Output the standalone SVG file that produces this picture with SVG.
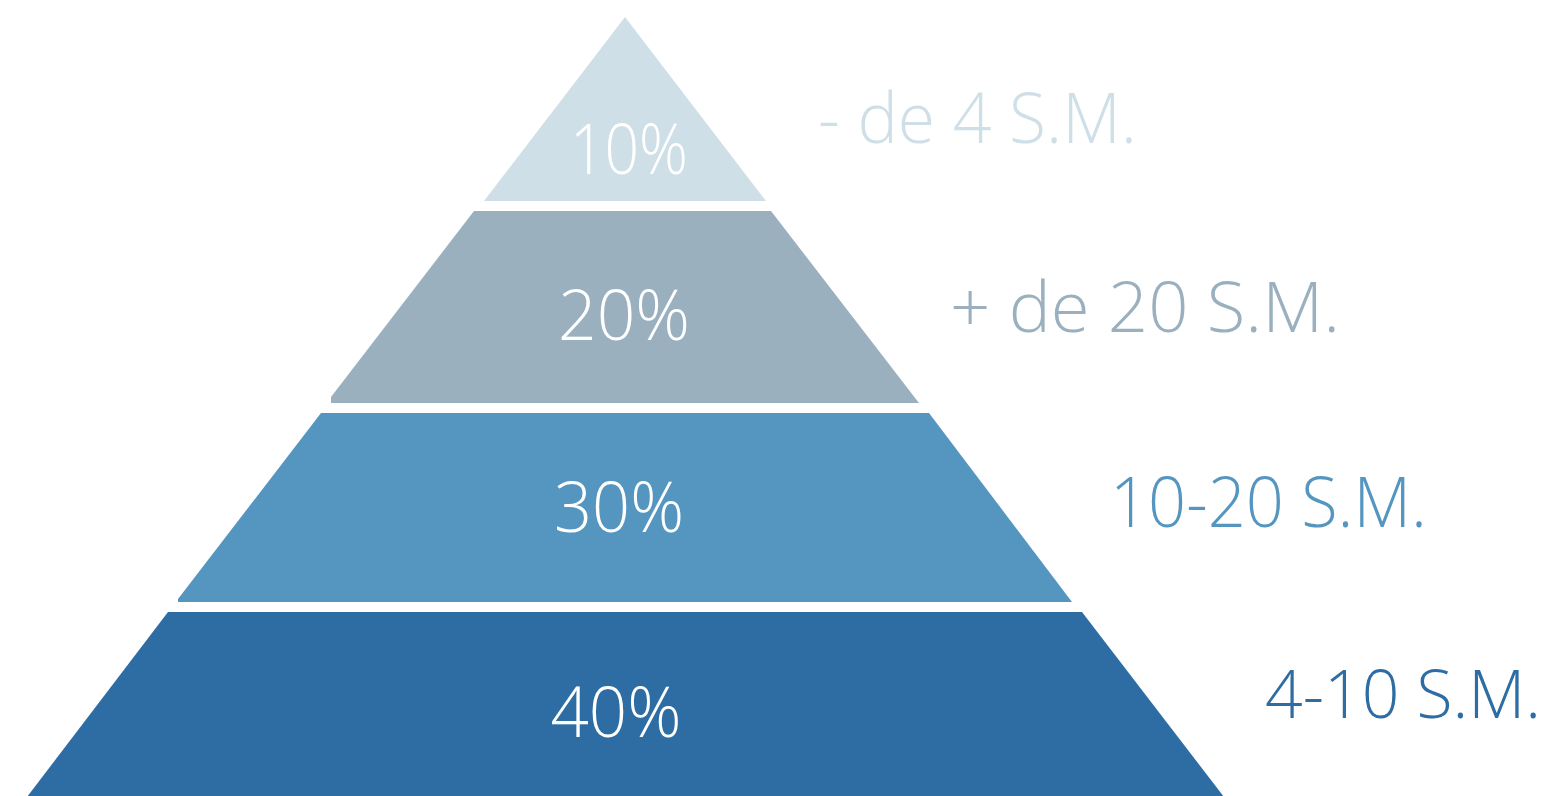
<svg xmlns="http://www.w3.org/2000/svg" width="1553" height="796" viewBox="0 0 1553 796">
<style>
.pct{font-family:"Open Sans","Liberation Sans",sans-serif;font-weight:300;font-size:70px;fill:#ffffff;text-anchor:middle}
.lbl{font-family:"Open Sans","Liberation Sans",sans-serif;font-weight:300;font-size:70px}
</style>
<rect width="1553" height="796" fill="#ffffff"/>
<g id="tier1">
<polygon points="625,17 766,201 484,201" fill="#CFDFE7"/>
<text class="pct" x="629" y="174" textLength="118" lengthAdjust="spacingAndGlyphs">10%</text>
</g>
<g id="tier2">
<polygon points="474,211 771,211 919,403 331,403 331,397" fill="#9AB0BE"/>
<text class="pct" x="624" y="340" textLength="132" lengthAdjust="spacingAndGlyphs">20%</text>
</g>
<g id="tier3">
<polygon points="321,413 929,413 1072,602 178,602 178,599" fill="#5596C1"/>
<text class="pct" x="619" y="532" textLength="130" lengthAdjust="spacingAndGlyphs">30%</text>
</g>
<g id="tier4">
<polygon points="168,612 1082,612 1224,797 27,797" fill="#2D6DA3"/>
<text class="pct" x="616" y="737" textLength="131" lengthAdjust="spacingAndGlyphs">40%</text>
</g>
<g id="labels">
<text class="lbl" x="818" y="143" fill="#CFDFE7" textLength="319" lengthAdjust="spacingAndGlyphs">- de 4 S.M.</text>
<text class="lbl" x="950" y="332" fill="#9AB0BE" textLength="390" lengthAdjust="spacingAndGlyphs">+ de 20 S.M.</text>
<text class="lbl" x="1110" y="527" fill="#5596C1" textLength="317" lengthAdjust="spacingAndGlyphs">10-20 S.M.</text>
<text class="lbl" x="1265" y="718" fill="#2D6DA3" style="font-size:66px" textLength="276" lengthAdjust="spacingAndGlyphs">4-10 S.M.</text>
</g>
<g id="connectors"></g>
</svg>
